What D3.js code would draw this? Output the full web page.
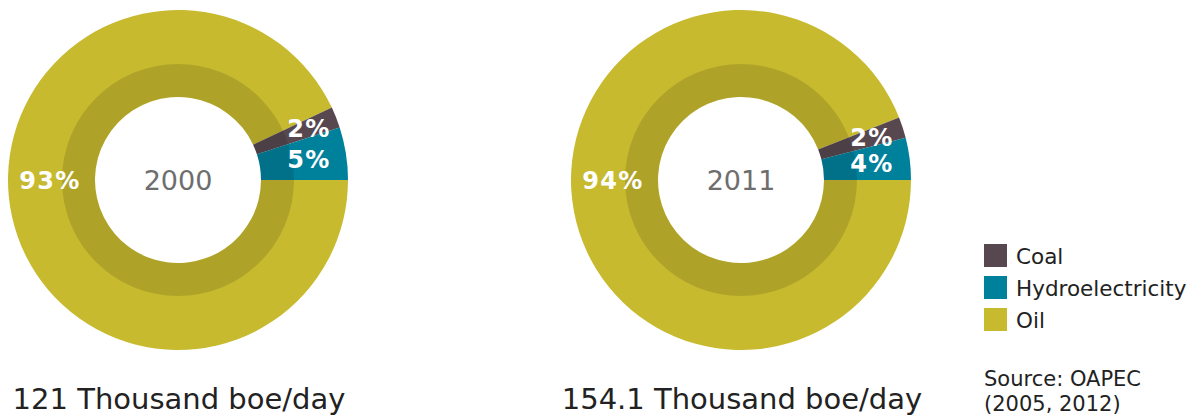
<!DOCTYPE html>
<html>
<head>
<meta charset="utf-8">
<script src="https://cdn.jsdelivr.net/npm/d3@7"></script>
<style>
  body { margin: 0; background: #fff; }
  svg { display: block; font-family: "DejaVu Sans", Verdana, sans-serif; }
</style>
</head>
<body>
<div id="container"></div>
<script>
// data
let years = ["2000", "2011"];
let sources = ["Oil", "Coal", "Hydroelectricity"];
let shares2000 = [93, 2, 5];
let shares2011 = [94, 2, 4];
let totals = ["121 Thousand boe/day", "154.1 Thousand boe/day"];
let legendOrder = ["Coal", "Hydroelectricity", "Oil"];
let sourceNote = ["Source: OAPEC", "(2005, 2012)"];

let width = 1203, height = 420;

let svg = d3.select("#container")
            .append("svg")
              .attr("width", width)
              .attr("height", height);

let color = d3.scaleOrdinal()
              .domain(sources)
              .range(["#c7ba2e", "#574850", "#00819b"]);

let xScale = d3.scalePoint()
               .domain(years)
               .range([178, 741]);

let cy = 180,
    outerR = 170,
    innerR = 83,
    bandR = 116,
    labelX = 131;   // horizontal distance of the labels from the centre

// oil starts at 3 o'clock and runs clockwise all the way round
let pie = d3.pie()
            .sort(null)
            .value(d => d.value)
            .startAngle(Math.PI / 2)
            .endAngle(Math.PI / 2 + 2 * Math.PI);

let arc = d3.arc().innerRadius(innerR).outerRadius(outerR);
let band = d3.arc().innerRadius(innerR).outerRadius(bandR)
             .startAngle(0).endAngle(2 * Math.PI);

let allShares = [shares2000, shares2011];

function labelPos(d){
  // the big slice gets its label at 9 o'clock,
  // the small ones sit on their mid-angle ray, lined up at the same x
  if (d.endAngle - d.startAngle > Math.PI) return [-labelX + 3, 0];
  let a = (d.startAngle + d.endAngle) / 2;
  let t = labelX / Math.sin(a);
  return [labelX, -Math.cos(a) * t];
}

years.forEach(function(year, i){
  let rows = sources.map((s, j) => ({source: s, value: allShares[i][j]}));
  let g = svg.append("g")
             .attr("transform", "translate(" + xScale(year) + "," + cy + ")");

  g.selectAll("path.slice")
    .data(pie(rows))
    .enter().append("path")
      .attr("class", "slice")
      .attr("d", arc)
      .attr("fill", d => color(d.data.source));

  // darker inner band over all slices
  g.append("path")
    .attr("d", band())
    .attr("fill", "#000")
    .attr("fill-opacity", 0.12);

  g.selectAll("text.pct")
    .data(pie(rows))
    .enter().append("text")
      .attr("class", "pct")
      .attr("transform", d => "translate(" + labelPos(d) + ")")
      .attr("text-anchor", "middle")
      .attr("dy", "0.36em")
      .attr("fill", "#fff")
      .attr("font-weight", "bold")
      .attr("font-size", 24)
      .attr("letter-spacing", 1.3)
      .text(d => d.data.value + "%");

  g.append("text")
    .attr("text-anchor", "middle")
    .attr("dy", "0.36em")
    .attr("fill", "#6e6e6e")
    .attr("font-size", 27)
    .text(year);

  svg.append("text")
    .attr("x", xScale(year) + 1)
    .attr("y", 409)
    .attr("text-anchor", "middle")
    .attr("fill", "#222")
    .attr("font-size", 29)
    .text(totals[i]);
});

// legend
let legend = svg.append("g").attr("transform", "translate(984,244)");
let item = legend.selectAll("g")
                 .data(legendOrder)
                 .enter().append("g")
                   .attr("transform", (d, i) => "translate(0," + (i * 32) + ")");
item.append("rect")
    .attr("width", 23)
    .attr("height", 23)
    .attr("fill", d => color(d));
item.append("text")
    .attr("x", 32)
    .attr("y", 20)
    .attr("fill", "#222")
    .attr("font-size", 21.5)
    .text(d => d);

svg.append("g")
   .selectAll("text")
   .data(sourceNote)
   .enter().append("text")
     .attr("x", 984)
     .attr("y", (d, i) => 386 + i * 25)
     .attr("fill", "#222")
     .attr("font-size", 21)
     .text(d => d);
</script>
</body>
</html>
